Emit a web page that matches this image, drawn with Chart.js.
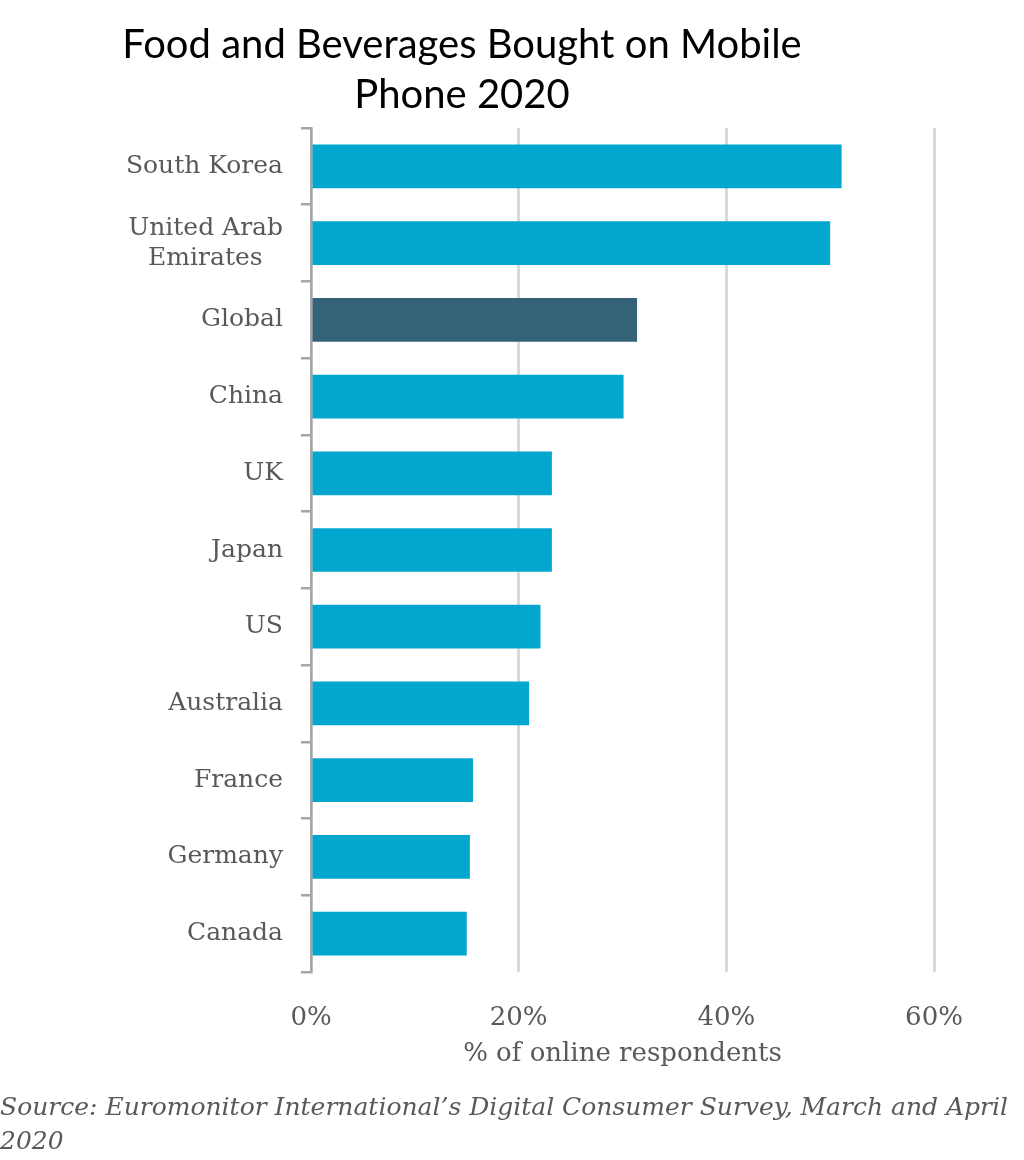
<!DOCTYPE html>
<html lang="en">
<head>
  <meta charset="UTF-8">
  <title>Food and Beverages Bought on Mobile Phone 2020</title>
  <script src="https://cdn.jsdelivr.net/npm/chart.js@4/dist/chart.umd.min.js"></script>
  <style>
    html, body { margin: 0; padding: 0; background: #fff; }
    #myChart { display: block; }
  </style>
</head>
<body>
  <canvas id="myChart" width="1024" height="1160"></canvas>
</body>
<script>
  // data
  // (trailing spaces on "Emirates" keep the two lines roughly centred, like the original)
  const countries = ['South Korea', ['United Arab', 'Emirates\u2002 '], 'Global', 'China', 'UK', 'Japan', 'US', 'Australia', 'France', 'Germany', 'Canada'];
  const shares = [51.1, 50.0, 31.4, 30.1, 23.2, 23.2, 22.1, 21.0, 15.6, 15.3, 15.0];
  const xTicks = [0, 20, 40, 60];

  const titleLines = ['Food and Beverages Bought on Mobile', 'Phone 2020'];
  const sourceLines = ['Source: Euromonitor International\u2019s Digital Consumer Survey, March and April', '2020'];

  const barColors = countries.map(c => c === 'Global' ? '#346379' : '#02A6CE');
  const labelFont = '"DejaVu Serif", serif';

  // title + source text drawn on the canvas
  const textPlugin = {
    id: 'texts',
    afterDraw(chart) {
      const c = chart.ctx;
      c.save();
      c.fillStyle = '#000';
      c.textAlign = 'center';
      c.textBaseline = 'middle';
      c.font = '40px Lato';
      c.fillText(titleLines[0], 462, 45);
      c.fillText(titleLines[1], 462, 95);
      c.fillStyle = '#595959';
      c.textAlign = 'left';
      c.font = 'italic 25px ' + labelFont;
      c.fillText(sourceLines[0], 0, 1108);
      c.fillText(sourceLines[1], 0, 1142);
      c.restore();
    }
  };

  const ctx = document.getElementById('myChart').getContext('2d');
  const config = {
    type: 'bar',
    data: {
      labels: countries,
      datasets: [{
        data: shares,
        backgroundColor: barColors,
        borderWidth: 0,
        barPercentage: 0.57,
        categoryPercentage: 1
      }]
    },
    options: {
      indexAxis: 'y',
      responsive: false,
      animation: false,
      layout: { padding: { top: 128, right: 90, bottom: 85, left: 0 } },
      plugins: {
        legend: { display: false },
        tooltip: { enabled: false }
      },
      scales: {
        x: {
          min: 0,
          max: 60,
          afterBuildTicks: scale => { scale.ticks = xTicks.map(v => ({ value: v })); },
          afterFit: scale => { scale.height = 103; },
          ticks: {
            padding: 31,
            color: '#595959',
            font: { family: labelFont, size: 26 },
            callback: v => v + '%'
          },
          grid: { color: '#d9d9d9', lineWidth: 3, drawTicks: false },
          border: { display: false },
          title: {
            display: true,
            text: '% of online respondents',
            color: '#595959',
            font: { family: labelFont, size: 26 },
            padding: { top: 0, bottom: 5 }
          }
        },
        y: {
          afterFit: scale => { scale.width = 311; },
          ticks: {
            padding: 18,
            color: '#595959',
            font: { family: labelFont, size: 25 }
          },
          grid: { drawOnChartArea: false, drawTicks: true, tickLength: 10, color: '#a6a6a6', lineWidth: 2.5 },
          border: { display: true, color: '#a6a6a6', width: 2.5 }
        }
      }
    },
    plugins: [textPlugin]
  };

  const myChart = new Chart(ctx, config);
</script>
</html>
